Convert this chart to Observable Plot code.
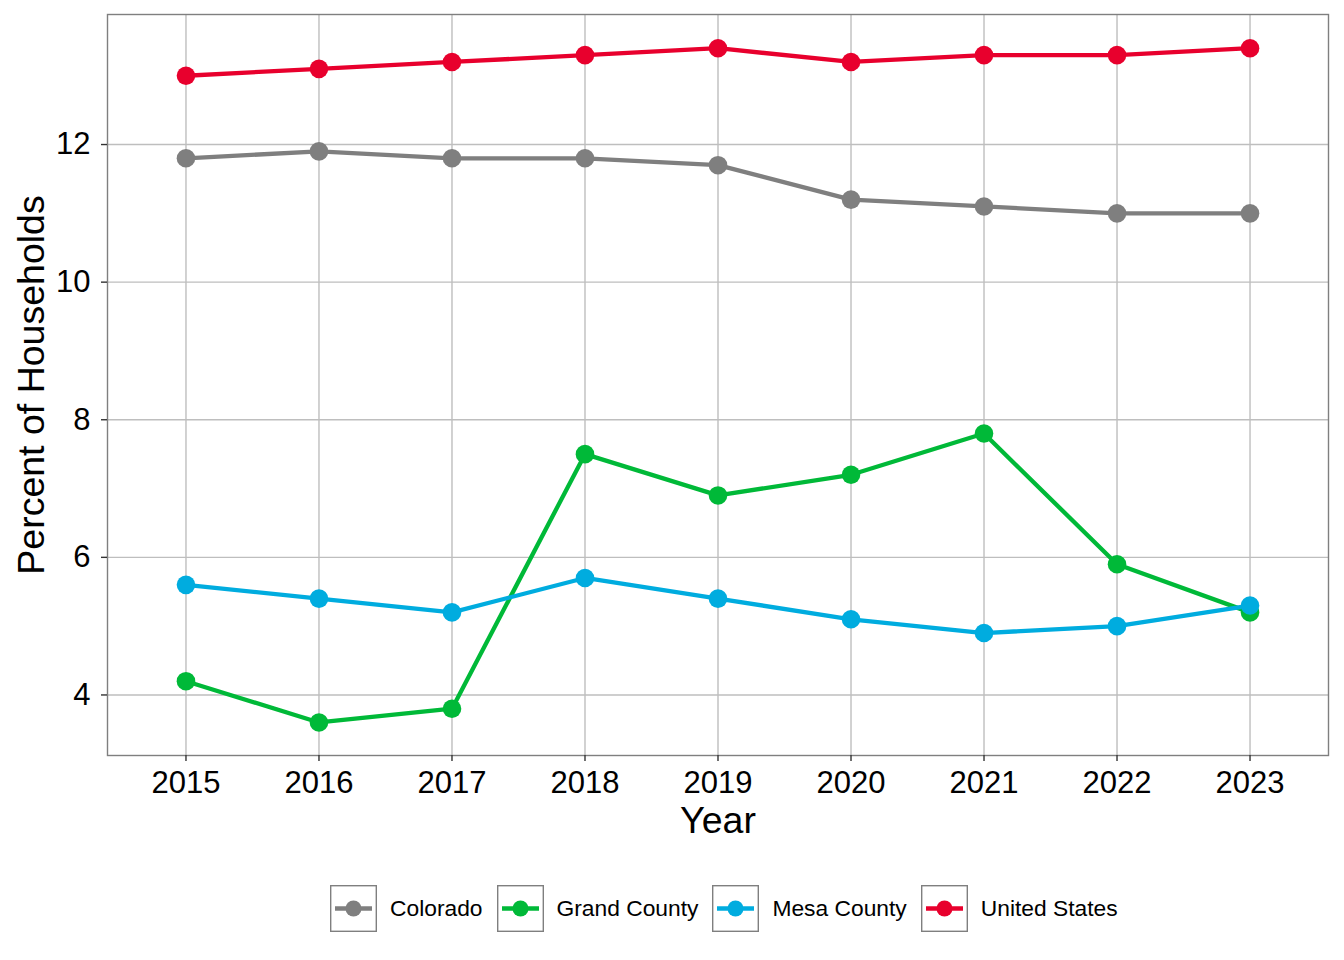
<!DOCTYPE html>
<html>
<head>
<meta charset="utf-8">
<script src="https://cdn.jsdelivr.net/npm/d3@7"></script>
<script src="https://cdn.jsdelivr.net/npm/@observablehq/plot@0.6"></script>
<style>
  html, body { margin: 0; padding: 0; background: #fff; }
  body { width: 1344px; height: 960px; overflow: hidden; font-family: "Liberation Sans", Arial, sans-serif; }
  #legend { display: flex; align-items: center; margin-top: 25px; margin-left: 330px; height: 46px; }
  .item { display: flex; align-items: center; margin-right: 14px; }
  .item span { font-size: 22.8px; color: #000; margin-left: 13px; white-space: nowrap; }
  .item svg { display: block; }
</style>
</head>
<body>
<div id="chart"></div>
<div id="legend"></div>
<script>
const years = [2015, 2016, 2017, 2018, 2019, 2020, 2021, 2022, 2023];
const seriesNames = ["Colorado", "Grand County", "Mesa County", "United States"];
const seriesColors = ["#7F7F7F", "#00B938", "#00ACDF", "#E8002D"];
const colorado = [11.8, 11.9, 11.8, 11.8, 11.7, 11.2, 11.1, 11.0, 11.0];
const grandCounty = [4.2, 3.6, 3.8, 7.5, 6.9, 7.2, 7.8, 5.9, 5.2];
const mesaCounty = [5.6, 5.4, 5.2, 5.7, 5.4, 5.1, 4.9, 5.0, 5.3];
const unitedStates = [13.0, 13.1, 13.2, 13.3, 13.4, 13.2, 13.3, 13.3, 13.4];
const yTicks = [4, 6, 8, 10, 12];

const seriesValues = [colorado, grandCounty, mesaCounty, unitedStates];
const data = [];
seriesNames.forEach((name, i) => {
  years.forEach((yr, j) => data.push({series: name, year: yr, value: seriesValues[i][j]}));
});

const chart = Plot.plot({
  width: 1344,
  height: 860,
  marginLeft: 107,
  marginRight: 16,
  marginTop: 14,
  marginBottom: 105,
  style: {fontFamily: "'Liberation Sans', Arial, sans-serif", fontSize: "31px", color: "#000", background: "white"},
  x: {domain: [2014.41, 2023.59]},
  y: {domain: [3.12, 13.89]},
  color: {domain: seriesNames, range: seriesColors},
  marks: [
    Plot.gridX(years, {stroke: "#BEBEBE", strokeOpacity: 1, strokeWidth: 1.4}),
    Plot.gridY(yTicks, {stroke: "#BEBEBE", strokeOpacity: 1, strokeWidth: 1.4}),
    Plot.frame({stroke: "#7F7F7F", strokeWidth: 1.4}),
    Plot.line(data, {x: "year", y: "value", z: "series", stroke: "series", strokeWidth: 4.3}),
    Plot.dot(data, {x: "year", y: "value", fill: "series", r: 9.3}),
    Plot.axisX(years, {tickSize: 6, tickPadding: 9, tickFormat: "d", fontSize: 31, stroke: "#333", strokeWidth: 1.4, label: null, color: "#000"}),
    Plot.axisY(yTicks, {tickSize: 6, tickPadding: 11, tickFormat: "d", fontSize: 31, stroke: "#333", strokeWidth: 1.4, label: null, color: "#000"}),
    Plot.text(["Year"], {frameAnchor: "bottom", dy: 65, textAnchor: "middle", lineAnchor: "middle", fontSize: 37.5, fill: "#000"}),
    Plot.text(["Percent of Households"], {frameAnchor: "left", dx: -76, rotate: -90, textAnchor: "middle", lineAnchor: "middle", fontSize: 37.5, fill: "#000"})
  ]
});
document.getElementById("chart").appendChild(chart);

const legend = d3.select("#legend");
seriesNames.forEach((name, i) => {
  const item = legend.append("div").attr("class", "item");
  const svg = item.append("svg").attr("width", 47).attr("height", 47);
  svg.append("rect").attr("x", 0.7).attr("y", 0.7).attr("width", 45.6).attr("height", 45.6)
    .attr("fill", "white").attr("stroke", "#7F7F7F").attr("stroke-width", 1.4);
  svg.append("line").attr("x1", 5).attr("x2", 42).attr("y1", 23.5).attr("y2", 23.5)
    .attr("stroke", seriesColors[i]).attr("stroke-width", 4.5);
  svg.append("circle").attr("cx", 23.5).attr("cy", 23.5).attr("r", 8).attr("fill", seriesColors[i]);
  item.append("span").text(name);
});
</script>
</body>
</html>
